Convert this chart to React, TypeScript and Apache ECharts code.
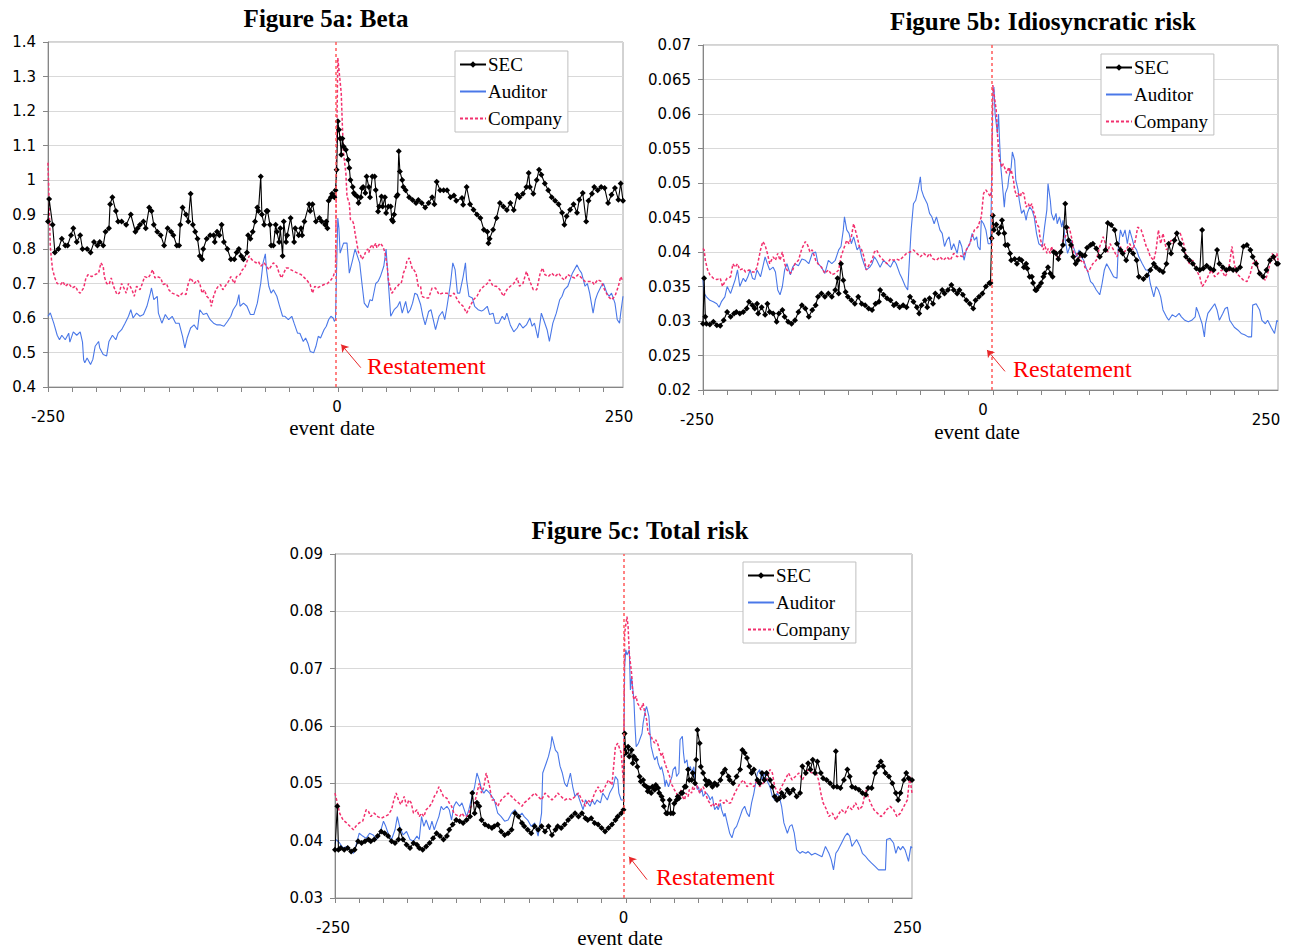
import React, { useEffect, useRef } from "react";
import * as echarts from "echarts";

// ---------- text ----------
const figureTitles = ["Figure 5a: Beta", "Figure 5b: Idiosyncratic risk", "Figure 5c: Total risk"];
const seriesNames = ["SEC", "Auditor", "Company"];
const xAxisName = "event date";
const annotationText = "Restatement";
const xLabelValues = [-250, 0, 250];
const eventLineDay = [0, 1, 0];

// ---------- Figure 5a: Beta ----------
const betaSec: [number, number][] = [
  [-250,.88],[-249,.945],[-246,.87],[-244,.79],[-241,.80],[-238,.83],[-235,.81],[-233,.81],[-230,.84],[-228,.86],[-225,.82],[-222,.84],[-220,.80],[-216,.80],[-213,.79],[-210,.82],[-207,.81],[-205,.82],[-202,.81],[-200,.85],[-197,.86],[-196,.93],[-194,.95],[-191,.91],[-189,.88],[-186,.88],[-182,.87],[-178,.90],[-174,.85],[-172,.86],[-170,.87],[-167,.88],[-165,.86],[-162,.92],[-160,.91],[-158,.87],[-155,.85],[-152,.84],[-149,.81],[-146,.86],[-143,.85],[-141,.84],[-138,.81],[-136,.81],[-135,.87],[-133,.92],[-130,.90],[-128,.88],[-126,.96],[-124,.87],[-122,.85],[-120,.83],[-118,.78],[-116,.77],[-115,.80],[-112,.83],[-109,.84],[-106,.84],[-105,.82],[-103,.85],[-101,.84],[-99,.87],[-97,.82],[-94,.80],[-91,.77],[-88,.77],[-86,.79],[-84,.80],[-82,.78],[-80,.77],[-77,.79],[-76,.84],[-74,.83],[-72,.85],[-70,.88],[-68,.92],[-67,.91],[-65,1.01],[-64,.90],[-62,.87],[-60,.91],[-59,.91],[-57,.87],[-56,.81],[-54,.81],[-52,.87],[-51,.85],[-49,.82],[-48,.86],[-46,.78],[-45,.88],[-43,.82],[-42,.84],[-39,.89],[-36,.82],[-35,.86],[-32,.84],[-30,.86],[-29,.84],[-27,.88],[-23,.93],[-22,.91],[-20,.93],[-17,.88],[-14,.89],[-12,.88],[-9,.87],[-8,.88],[-7,.86],[-6,.94],[-4,.95],[-3,.96],[-1,.95],[0,.97],
  [1,1.03],[2,1.17],[3,1.146],[4,1.12],[5,1.073],[6,1.12],[7,1.097],[9,1.088],[11,1.059],[12,1.035],[13,1.0],[15,.98],[16,.962],[17,.957],[19,.952],[20,.933],[22,.95],[23,.976],[24,.98],[26,.962],[27,1.01],[29,.98],[30,.95],[32,1.01],[34,1.01],[35,.971],[37,.909],[38,.923],[40,.952],[41,.923],[43,.95],[44,.904],[46,.923],[48,.923],[49,.885],[50,.88],[51,.9],[53,.952],[54,.957],[55,1.083],[56,1.025],[58,1.0],[59,.98],[61,.97],[64,.95],[67,.942],[70,.933],[72,.942],[75,.933],[78,.92],[81,.933],[84,.95],[86,.93],[88,.995],[91,.97],[94,.97],[97,.97],[100,.95],[103,.955],[105,.94],[110,.948],[111,.928],[114,.98],[117,.93],[120,.914],[123,.9],[126,.89],[129,.856],[132,.85],[133,.817],[134,.83],[137,.856],[140,.89],[143,.933],[146,.923],[149,.913],[152,.933],[155,.913],[158,.957],[160,.95],[163,.96],[166,.98],[168,1.02],[169,.98],[172,.96],[175,1.0],[177,1.03],[179,1.015],[182,.99],[185,.97],[188,.95],[191,.94],[194,.93],[197,.905],[199,.87],[201,.895],[204,.914],[207,.93],[210,.905],[212,.943],[215,.962],[218,.88],[220,.94],[223,.96],[225,.98],[228,.97],[231,.98],[234,.977],[237,.933],[240,.957],[243,.977],[246,.943],[248,.99],[250,.94]
];
const betaAud: [number, number][] = [
  [-250,.605],[-248,.615],[-245,.585],[-242,.55],[-240,.537],[-238,.55],[-235,.537],[-232,.556],[-231,.53],[-228,.56],[-225,.55],[-222,.56],[-220,.53],[-219,.479],[-218,.47],[-216,.484],[-213,.465],[-211,.48],[-209,.518],[-206,.532],[-205,.513],[-202,.494],[-199,.49],[-197,.532],[-194,.55],[-191,.537],[-189,.556],[-186,.566],[-183,.585],[-180,.605],[-178,.624],[-176,.6],[-173,.614],[-170,.605],[-167,.61],[-164,.634],[-161,.672],[-160,.687],[-158,.653],[-155,.663],[-154,.614],[-151,.585],[-148,.61],[-145,.595],[-142,.605],[-139,.585],[-136,.585],[-133,.547],[-131,.513],[-129,.542],[-126,.571],[-123,.58],[-120,.566],[-118,.624],[-115,.61],[-112,.614],[-109,.595],[-106,.585],[-103,.58],[-100,.58],[-97,.576],[-94,.59],[-91,.605],[-89,.624],[-86,.639],[-84,.668],[-83,.634],[-80,.643],[-77,.634],[-74,.61],[-71,.61],[-68,.643],[-65,.701],[-63,.76],[-61,.786],[-60,.74],[-58,.692],[-56,.672],[-54,.682],[-51,.663],[-49,.639],[-46,.605],[-44,.605],[-41,.595],[-38,.605],[-36,.585],[-33,.556],[-31,.556],[-28,.532],[-26,.542],[-24,.527],[-22,.503],[-19,.499],[-17,.518],[-15,.547],[-13,.542],[-10,.566],[-8,.576],[-6,.595],[-4,.605],[-2,.6],[-1,.59],[0,.596],
  [1,.75],[2,.89],[3,.86],[4,.788],[7,.817],[10,.817],[12,.73],[15,.77],[17,.8],[19,.78],[21,.76],[23,.70],[25,.643],[28,.63],[30,.653],[32,.65],[35,.70],[37,.706],[39,.72],[42,.75],[44,.8],[46,.70],[48,.605],[51,.624],[54,.634],[56,.648],[58,.614],[61,.648],[63,.614],[65,.624],[67,.643],[69,.672],[71,.668],[74,.639],[76,.605],[78,.58],[81,.619],[83,.624],[85,.595],[87,.566],[90,.605],[93,.619],[95,.595],[97,.634],[100,.70],[102,.76],[104,.74],[106,.672],[108,.672],[111,.72],[113,.76],[114,.711],[116,.663],[119,.658],[121,.634],[124,.624],[127,.62],[129,.624],[132,.634],[134,.61],[137,.614],[139,.585],[142,.585],[145,.605],[147,.595],[149,.614],[152,.58],[155,.56],[158,.571],[160,.585],[163,.571],[166,.58],[169,.6],[171,.576],[173,.585],[176,.542],[179,.614],[181,.595],[184,.566],[186,.532],[189,.585],[192,.614],[195,.653],[197,.663],[199,.682],[202,.692],[206,.73],[210,.754],[212,.74],[214,.73],[217,.692],[219,.70],[221,.672],[224,.614],[226,.653],[228,.672],[231,.692],[233,.70],[236,.672],[238,.663],[240,.672],[243,.643],[245,.595],[247,.585],[248,.614],[250,.663]
];
const betaCo: [number, number][] = [
  [-250,1.05],[-249,.933],[-248,.808],[-247,.77],[-246,.74],[-244,.716],[-242,.70],[-239,.697],[-237,.706],[-235,.692],[-232,.70],[-229,.687],[-226,.692],[-224,.677],[-222,.672],[-219,.687],[-217,.716],[-215,.726],[-212,.72],[-209,.726],[-206,.73],[-204,.76],[-202,.75],[-201,.72],[-199,.70],[-197,.697],[-195,.716],[-193,.692],[-190,.668],[-188,.672],[-186,.70],[-184,.687],[-182,.672],[-180,.70],[-177,.682],[-175,.663],[-173,.692],[-170,.682],[-168,.70],[-166,.72],[-163,.716],[-161,.726],[-159,.74],[-157,.716],[-155,.72],[-152,.716],[-150,.697],[-147,.70],[-145,.682],[-142,.672],[-139,.668],[-136,.663],[-133,.672],[-130,.668],[-128,.70],[-126,.716],[-123,.70],[-120,.71],[-118,.70],[-116,.672],[-114,.682],[-112,.663],[-109,.653],[-108,.634],[-106,.663],[-104,.682],[-102,.692],[-100,.697],[-98,.682],[-96,.692],[-93,.706],[-91,.72],[-88,.70],[-86,.72],[-83,.726],[-81,.74],[-79,.745],[-77,.764],[-75,.78],[-73,.77],[-71,.764],[-69,.76],[-67,.764],[-65,.75],[-62,.76],[-60,.75],[-58,.74],[-56,.75],[-54,.76],[-51,.75],[-49,.73],[-47,.716],[-45,.73],[-43,.745],[-41,.745],[-39,.74],[-36,.735],[-33,.73],[-30,.726],[-28,.72],[-25,.71],[-22,.697],[-20,.672],[-18,.692],[-16,.687],[-13,.692],[-10,.697],[-7,.70],[-4,.71],[-2,.72],[-1,.73],[0,.73],
  [1,1.10],[2,1.354],[3,1.32],[5,1.252],[6,1.155],[7,1.078],[9,1.02],[10,.952],[12,.933],[13,.885],[15,.88],[16,.871],[17,.846],[19,.808],[20,.79],[22,.78],[23,.77],[25,.78],[26,.79],[28,.80],[29,.79],[30,.803],[32,.813],[33,.803],[35,.817],[36,.803],[38,.813],[39,.817],[41,.808],[42,.80],[43,.79],[45,.75],[46,.711],[48,.683],[49,.672],[51,.68],[52,.687],[54,.692],[55,.697],[57,.70],[58,.711],[59,.73],[61,.745],[62,.764],[64,.774],[65,.764],[67,.74],[68,.74],[70,.73],[71,.711],[72,.692],[74,.692],[75,.663],[78,.658],[81,.658],[84,.687],[87,.687],[90,.668],[93,.672],[95,.672],[97,.672],[100,.663],[103,.672],[106,.653],[108,.643],[111,.634],[114,.614],[117,.634],[120,.653],[123,.663],[126,.682],[129,.692],[132,.70],[134,.711],[137,.692],[140,.692],[143,.682],[146,.663],[149,.682],[152,.692],[155,.70],[158,.716],[160,.692],[163,.70],[166,.735],[169,.706],[172,.682],[175,.682],[178,.73],[180,.745],[182,.726],[185,.72],[188,.73],[191,.72],[194,.73],[197,.716],[199,.71],[202,.726],[205,.72],[208,.716],[211,.726],[214,.716],[217,.706],[220,.706],[223,.706],[225,.697],[228,.711],[231,.706],[234,.682],[237,.663],[240,.653],[243,.663],[246,.692],[248,.72],[250,.706]
];

// ---------- Figure 5b: Idiosyncratic risk ----------
const idioSec: [number, number][] = [
  [-250,.0296],[-249,.0362],[-248,.0306],[-247,.0296],[-244,.0295],[-241,.0299],[-238,.0294],[-235,.0293],[-232,.0301],[-229,.0313],[-226,.0306],[-223,.0311],[-221,.0313],[-218,.0311],[-215,.0313],[-212,.0318],[-210,.0328],[-207,.0323],[-205,.0318],[-203,.0325],[-202,.0311],[-199,.032],[-196,.0309],[-194,.0325],[-192,.0313],[-189,.0311],[-186,.0299],[-184,.0311],[-181,.0316],[-179,.0306],[-176,.0299],[-173,.0296],[-170,.0301],[-167,.0313],[-164,.0323],[-161,.0318],[-158,.0306],[-155,.0316],[-152,.0323],[-150,.0335],[-147,.034],[-144,.0335],[-141,.034],[-138,.0335],[-135,.0345],[-133,.0362],[-132,.034],[-130,.0383],[-128,.0359],[-126,.0342],[-124,.0335],[-121,.033],[-118,.0325],[-115,.0335],[-112,.0325],[-109,.0323],[-106,.0318],[-103,.0316],[-100,.0325],[-97,.0328],[-96,.0345],[-93,.0338],[-90,.0333],[-87,.033],[-84,.0323],[-82,.0325],[-79,.032],[-76,.0323],[-73,.032],[-70,.0335],[-67,.0328],[-64,.032],[-62,.0311],[-60,.0323],[-57,.033],[-55,.032],[-53,.0333],[-50,.0325],[-48,.034],[-45,.0335],[-42,.0345],[-40,.034],[-37,.0345],[-34,.0352],[-32,.0345],[-29,.034],[-27,.0345],[-24,.0338],[-21,.033],[-18,.0325],[-15,.0318],[-13,.033],[-10,.0335],[-7,.034],[-4,.035],[-1,.0355],[0,.0355],
  [1,.042],[2,.0453],[3,.0432],[5,.044],[7,.0427],[9,.0436],[10,.0446],[12,.0427],[13,.041],[15,.041],[17,.0398],[18,.0388],[21,.039],[23,.0383],[25,.039],[27,.0388],[29,.0378],[31,.0383],[32,.0376],[34,.0364],[36,.0364],[37,.0355],[39,.0345],[40,.0345],[42,.035],[44,.0355],[46,.0364],[47,.0369],[50,.0378],[52,.0369],[54,.0364],[55,.04],[57,.0398],[59,.039],[61,.04],[63,.041],[65,.047],[66,.0436],[68,.0417],[70,.041],[72,.0393],[74,.0383],[76,.0388],[78,.0398],[80,.0395],[82,.0395],[84,.0406],[87,.041],[89,.0412],[92,.0405],[95,.0393],[100,.0403],[102,.0442],[105,.0439],[108,.0432],[110,.0412],[113,.0403],[115,.0398],[118,.0388],[121,.0403],[124,.0398],[127,.0388],[129,.0364],[133,.0361],[136,.0366],[139,.0374],[142,.0383],[144,.0378],[147,.0374],[150,.0371],[153,.0383],[155,.0412],[157,.0398],[160,.0417],[162,.0427],[165,.0412],[168,.0403],[170,.0393],[173,.0388],[176,.0383],[179,.0376],[182,.0374],[184,.0432],[185,.0376],[188,.038],[191,.0376],[194,.0374],[197,.0403],[199,.0383],[202,.0378],[205,.0374],[208,.0376],[211,.0374],[214,.0374],[217,.0378],[220,.0408],[223,.041],[226,.0403],[228,.0393],[231,.0383],[234,.0369],[237,.0364],[240,.0374],[243,.0388],[246,.0393],[249,.0383],[250,.0383]
];
const idioAud: [number, number][] = [
  [-250,.036],[-249,.034],[-247,.0335],[-244,.033],[-241,.0328],[-238,.0325],[-236,.032],[-234,.0328],[-231,.0335],[-229,.035],[-226,.034],[-224,.035],[-222,.036],[-220,.0374],[-218,.035],[-215,.0362],[-213,.0357],[-211,.0364],[-209,.0374],[-207,.0362],[-205,.036],[-203,.0374],[-200,.0364],[-198,.0378],[-196,.0393],[-194,.0383],[-192,.0374],[-189,.0378],[-187,.0371],[-185,.0345],[-183,.0338],[-181,.035],[-179,.0374],[-177,.0383],[-174,.0367],[-172,.0378],[-170,.0383],[-167,.038],[-164,.039],[-161,.0388],[-158,.0383],[-155,.0398],[-152,.04],[-150,.0383],[-147,.0378],[-144,.0369],[-141,.0388],[-138,.0383],[-135,.0388],[-132,.0403],[-130,.0408],[-128,.0432],[-127,.0451],[-125,.0432],[-123,.0427],[-121,.0412],[-119,.0422],[-116,.0403],[-114,.0408],[-112,.0393],[-110,.0383],[-108,.0374],[-105,.0378],[-103,.0383],[-101,.0393],[-99,.0388],[-96,.0378],[-93,.0388],[-90,.0383],[-87,.0378],[-84,.0388],[-82,.0383],[-79,.0369],[-77,.0362],[-74,.035],[-72,.0345],[-71,.0374],[-69,.0432],[-67,.047],[-65,.0475],[-63,.049],[-61,.0509],[-60,.049],[-58,.048],[-55,.047],[-53,.0456],[-51,.0451],[-49,.0441],[-47,.0451],[-44,.0432],[-42,.0427],[-40,.0408],[-38,.0417],[-36,.0422],[-34,.0403],[-32,.0412],[-29,.0398],[-27,.0417],[-25,.0408],[-23,.0388],[-21,.0403],[-18,.0412],[-16,.0427],[-14,.0417],[-12,.0422],[-11,.0408],[-9,.0403],[-8,.0446],[-6,.0441],[-4,.0432],[-2,.0412],[0,.0412],
  [1,.05],[2,.063],[3,.0639],[4,.06],[6,.0572],[7,.06],[8,.0557],[9,.0523],[11,.0485],[12,.0465],[13,.0485],[15,.0494],[16,.0509],[18,.0523],[19,.0545],[21,.0533],[22,.0504],[24,.049],[25,.0475],[27,.0456],[29,.0461],[31,.0446],[32,.0456],[34,.0465],[36,.0461],[38,.0451],[40,.0427],[42,.0412],[45,.0408],[47,.0436],[49,.0461],[50,.0499],[52,.0475],[53,.0456],[55,.0446],[57,.0456],[58,.0441],[60,.0451],[62,.0436],[63,.0446],[65,.0417],[67,.0398],[69,.0408],[70,.0417],[73,.0403],[75,.0393],[77,.0403],[79,.0393],[81,.0388],[83,.0378],[85,.0369],[87,.0357],[89,.0354],[92,.0345],[95,.0338],[97,.0354],[99,.0374],[101,.0383],[104,.0374],[107,.0364],[110,.0362],[111,.0403],[113,.0432],[115,.0422],[117,.0432],[119,.0412],[121,.0432],[123,.042],[125,.0408],[127,.0403],[129,.0393],[132,.0383],[135,.0374],[137,.0374],[139,.0354],[142,.0335],[144,.035],[146,.0345],[148,.0335],[150,.0316],[153,.0306],[155,.0301],[158,.0309],[161,.0306],[164,.0311],[166,.0306],[169,.0301],[172,.0299],[175,.0301],[178,.0306],[179,.032],[181,.0311],[184,.0296],[186,.0277],[187,.0296],[189,.0311],[192,.0318],[195,.0325],[197,.0316],[199,.0301],[202,.0311],[204,.0318],[206,.032],[208,.0301],[210,.0296],[212,.0291],[215,.0287],[218,.0282],[221,.028],[224,.0277],[227,.0277],[228,.0323],[231,.0325],[234,.0316],[236,.0301],[239,.0296],[241,.0301],[244,.0291],[247,.0282],[249,.0301],[250,.0299]
];
const idioCo: [number, number][] = [
  [-250,.0405],[-249,.0403],[-248,.0388],[-246,.0374],[-244,.0367],[-241,.0362],[-238,.036],[-235,.0362],[-233,.035],[-231,.0357],[-229,.0362],[-226,.0364],[-224,.0383],[-222,.0378],[-220,.0383],[-218,.0374],[-215,.0376],[-213,.0371],[-210,.0374],[-207,.0371],[-205,.0371],[-203,.0378],[-200,.0403],[-198,.0415],[-196,.041],[-194,.0398],[-192,.0383],[-189,.0393],[-187,.0388],[-185,.0398],[-183,.0388],[-181,.04],[-179,.0383],[-177,.0374],[-174,.0369],[-172,.0374],[-170,.0383],[-167,.0388],[-164,.0405],[-161,.0415],[-159,.041],[-157,.04],[-155,.0403],[-152,.0388],[-150,.0383],[-147,.0378],[-144,.0369],[-141,.0374],[-138,.0367],[-135,.0369],[-132,.0374],[-130,.0393],[-128,.0403],[-125,.0417],[-123,.0412],[-121,.0422],[-119,.0441],[-116,.0422],[-114,.0408],[-112,.0403],[-110,.0393],[-108,.0374],[-105,.0383],[-103,.0388],[-101,.04],[-99,.0403],[-96,.0393],[-93,.0388],[-90,.0383],[-87,.039],[-84,.0388],[-82,.039],[-79,.0388],[-76,.0393],[-73,.0398],[-70,.04],[-67,.0403],[-64,.0398],[-61,.0393],[-58,.0398],[-55,.0393],[-53,.0398],[-50,.039],[-47,.0388],[-44,.0393],[-41,.0388],[-38,.0393],[-35,.0388],[-32,.0398],[-29,.0393],[-27,.0395],[-24,.0393],[-21,.0403],[-18,.0412],[-16,.0422],[-14,.0432],[-11,.0436],[-8,.0451],[-6,.0485],[-4,.049],[-2,.0485],[0,.048],
  [1,.0494],[2,.0642],[3,.063],[5,.0605],[6,.0572],[7,.0548],[8,.0533],[10,.0523],[11,.0528],[13,.0519],[14,.0514],[16,.0523],[17,.0514],[18,.0519],[20,.0504],[21,.049],[23,.048],[24,.0485],[26,.048],[27,.0487],[29,.0485],[30,.0475],[31,.0465],[33,.047],[34,.0465],[36,.047],[37,.0461],[39,.0451],[40,.0441],[42,.0436],[43,.0422],[45,.0408],[46,.0403],[47,.0412],[49,.0398],[50,.0405],[52,.0398],[53,.0408],[55,.0398],[56,.0403],[58,.0393],[59,.0388],[60,.0393],[62,.0408],[63,.0417],[65,.0422],[66,.0427],[68,.0436],[69,.0432],[71,.0417],[72,.0403],[73,.0393],[75,.0398],[76,.0388],[78,.0393],[79,.0386],[81,.0388],[82,.0378],[84,.0374],[85,.0371],[86,.0374],[89,.0383],[92,.0388],[95,.0408],[98,.0422],[100,.0412],[102,.04],[104,.0412],[107,.0403],[110,.0393],[113,.0408],[115,.0398],[118,.0403],[121,.0412],[124,.0403],[126,.0417],[128,.0436],[131,.0432],[133,.0422],[135,.041],[137,.0403],[139,.0393],[142,.0388],[144,.0403],[146,.0432],[148,.0412],[150,.0427],[153,.0403],[155,.0408],[157,.0417],[159,.0412],[162,.0427],[165,.0427],[168,.0412],[170,.0393],[173,.0383],[176,.0388],[179,.0374],[182,.0364],[184,.035],[186,.0354],[189,.0364],[192,.0374],[195,.0364],[198,.0369],[201,.0374],[204,.0364],[207,.0374],[210,.0408],[212,.0383],[214,.0369],[217,.0364],[220,.0359],[223,.0357],[226,.0369],[228,.0383],[231,.0388],[233,.0374],[236,.0364],[239,.0359],[241,.0369],[243,.0383],[245,.0398],[247,.0388],[249,.0398],[250,.0388]
];

// ---------- Figure 5c: Total risk ----------
const totSec: [number, number][] = [
  [-250,.0384],[-248,.046],[-247,.0384],[-245,.0387],[-242,.0384],[-239,.0387],[-236,.0381],[-233,.0384],[-230,.0399],[-227,.0396],[-224,.0399],[-221,.0402],[-219,.0399],[-216,.0402],[-213,.0408],[-210,.0416],[-207,.0413],[-204,.0408],[-201,.0399],[-198,.0396],[-195,.0402],[-194,.0419],[-191,.0402],[-188,.0393],[-185,.0387],[-182,.0396],[-179,.0393],[-177,.0387],[-174,.0384],[-171,.039],[-168,.0396],[-165,.0404],[-162,.0413],[-159,.0408],[-156,.0402],[-153,.0408],[-151,.0419],[-148,.0428],[-145,.0436],[-142,.0434],[-139,.0431],[-136,.0436],[-133,.0442],[-131,.0483],[-129,.0448],[-127,.0466],[-125,.046],[-123,.0436],[-120,.0428],[-117,.0425],[-114,.0422],[-112,.0425],[-109,.0428],[-106,.0416],[-103,.041],[-100,.0413],[-97,.0419],[-94,.0448],[-91,.0442],[-88,.0431],[-86,.0425],[-83,.0419],[-80,.0413],[-77,.0425],[-74,.0419],[-71,.0425],[-68,.0416],[-65,.0425],[-62,.041],[-59,.0419],[-57,.0425],[-54,.0422],[-51,.0428],[-48,.0436],[-45,.0442],[-42,.0448],[-39,.0442],[-36,.0448],[-33,.0439],[-31,.0436],[-28,.0439],[-25,.0431],[-22,.0428],[-19,.0422],[-16,.0416],[-13,.0422],[-10,.0428],[-7,.0436],[-5,.0442],[-2,.0448],[0,.0454],
  [1,.0587],[2,.0553],[4,.0564],[5,.0547],[7,.0558],[8,.0535],[9,.0547],[11,.0541],[12,.0529],[14,.0512],[15,.0503],[17,.0506],[18,.0497],[20,.0494],[21,.0486],[22,.0492],[24,.0483],[25,.0494],[27,.0489],[28,.0497],[30,.0492],[31,.0483],[33,.0477],[34,.0471],[35,.046],[37,.0448],[38,.0448],[40,.0471],[41,.0448],[43,.0448],[44,.0465],[46,.0471],[47,.0477],[48,.0474],[50,.0483],[51,.0483],[53,.0494],[54,.0494],[56,.0524],[57,.0506],[59,.0506],[60,.0518],[62,.05],[63,.0541],[64,.0593],[66,.057],[67,.0529],[69,.0518],[71,.0506],[72,.0497],[74,.0503],[75,.05],[77,.0494],[79,.05],[81,.0497],[84,.0506],[86,.0518],[88,.0524],[91,.0512],[92,.0506],[95,.05],[98,.0512],[101,.0524],[103,.0558],[105,.0553],[107,.0544],[109,.053],[111,.0518],[113,.0524],[116,.0506],[118,.05],[120,.0518],[122,.0506],[124,.0518],[127,.0506],[129,.0494],[131,.0477],[133,.0471],[135,.0474],[137,.0483],[139,.0477],[142,.0489],[144,.0483],[147,.0489],[150,.0477],[153,.0483],[155,.053],[158,.0518],[160,.0535],[162,.0524],[164,.0541],[166,.0518],[168,.0538],[171,.0518],[173,.0509],[176,.0506],[179,.05],[182,.0494],[184,.0556],[185,.0494],[188,.0492],[191,.0506],[194,.0524],[196,.0512],[198,.0494],[201,.0492],[204,.0489],[207,.0483],[210,.048],[212,.0492],[215,.0492],[218,.0518],[221,.053],[223,.0538],[225,.053],[227,.0518],[230,.0512],[233,.05],[236,.0483],[238,.0471],[240,.0483],[243,.0506],[245,.0518],[247,.0509],[250,.0506]
];
const totAud: [number, number][] = [
  [-250,.0395],[-249,.0402],[-246,.0396],[-243,.0387],[-240,.039],[-237,.0384],[-234,.0378],[-232,.039],[-229,.0413],[-226,.0408],[-223,.0404],[-220,.0413],[-217,.041],[-214,.0402],[-211,.0413],[-208,.0434],[-206,.0425],[-204,.0413],[-201,.0402],[-198,.0419],[-196,.0442],[-194,.0425],[-191,.041],[-188,.0416],[-185,.0402],[-182,.0399],[-179,.0408],[-177,.0402],[-175,.0442],[-173,.0425],[-171,.0436],[-168,.0419],[-166,.0434],[-164,.0419],[-162,.0431],[-160,.0442],[-158,.046],[-156,.0454],[-153,.046],[-151,.0454],[-149,.0436],[-147,.046],[-145,.0468],[-142,.046],[-140,.0466],[-138,.0454],[-136,.0442],[-134,.0454],[-132,.0471],[-129,.0494],[-127,.0518],[-125,.0506],[-123,.0489],[-121,.0483],[-119,.0489],[-116,.0483],[-114,.0477],[-112,.0471],[-109,.0448],[-106,.0442],[-103,.0434],[-100,.0436],[-97,.0448],[-94,.0454],[-91,.0442],[-88,.0448],[-86,.0442],[-83,.0436],[-80,.0425],[-77,.0431],[-74,.0408],[-71,.0448],[-70,.0518],[-67,.0535],[-65,.0547],[-63,.0564],[-62,.0582],[-59,.0558],[-57,.0553],[-55,.053],[-53,.0518],[-51,.05],[-49,.0494],[-46,.0518],[-44,.0494],[-42,.0477],[-40,.0483],[-38,.0471],[-35,.0454],[-33,.0471],[-31,.0466],[-29,.046],[-27,.0471],[-25,.0463],[-23,.0471],[-20,.0466],[-18,.0483],[-16,.0477],[-14,.0471],[-12,.0483],[-9,.0494],[-7,.0512],[-5,.0506],[-4,.0483],[-2,.0471],[0,.0471],
  [1,.0704],[2,.0733],[3,.0724],[5,.0733],[6,.0663],[7,.0686],[9,.0646],[10,.0599],[11,.0564],[13,.057],[14,.0576],[16,.0587],[17,.0605],[19,.0628],[20,.0634],[22,.0617],[23,.0587],[24,.0564],[26,.0547],[27,.0541],[29,.0547],[30,.0535],[32,.0524],[33,.0529],[35,.0512],[36,.0494],[37,.0506],[39,.0494],[40,.05],[42,.0512],[43,.0524],[45,.0529],[46,.0512],[48,.0518],[49,.0576],[51,.0582],[52,.0553],[53,.0535],[55,.0541],[56,.0524],[58,.0529],[59,.0518],[61,.0529],[62,.0506],[64,.0489],[65,.0494],[66,.0483],[68,.0489],[69,.0477],[71,.0483],[72,.0483],[74,.0477],[75,.0471],[77,.0477],[78,.0465],[79,.0454],[81,.046],[82,.0454],[84,.0465],[85,.0454],[87,.0442],[88,.0448],[90,.043],[92,.0413],[94,.0405],[96,.042],[98,.0425],[101,.0442],[103,.0454],[105,.046],[107,.0448],[109,.0442],[111,.0466],[113,.0483],[116,.0518],[118,.0524],[120,.0506],[122,.0518],[124,.0506],[127,.0494],[129,.0477],[131,.0471],[133,.0483],[135,.0477],[137,.046],[139,.0431],[142,.0413],[144,.0425],[146,.0428],[148,.0413],[150,.0384],[153,.0378],[155,.0381],[158,.0378],[160,.0381],[163,.0375],[166,.0378],[169,.0375],[172,.0372],[175,.039],[178,.0378],[180,.0367],[182,.0349],[184,.0378],[186,.0384],[189,.0396],[192,.0408],[194,.0413],[196,.0408],[198,.039],[200,.0396],[202,.0402],[205,.039],[207,.0378],[210,.0372],[212,.0367],[215,.0361],[218,.0355],[221,.0349],[224,.0349],[227,.0349],[228,.0402],[231,.0404],[234,.0396],[236,.0378],[238,.039],[240,.0384],[242,.039],[244,.0384],[247,.0364],[249,.039],[250,.0387]
];
const totCo: [number, number][] = [
  [-250,.0483],[-248,.0466],[-246,.0448],[-243,.0436],[-240,.0431],[-237,.0425],[-234,.0419],[-232,.0425],[-229,.0431],[-226,.0434],[-223,.0454],[-221,.0451],[-219,.0442],[-216,.0448],[-213,.0442],[-210,.0439],[-207,.0442],[-204,.0445],[-201,.0454],[-199,.0471],[-197,.0483],[-195,.0471],[-193,.0463],[-190,.0477],[-188,.046],[-186,.0471],[-184,.0466],[-182,.0448],[-179,.0454],[-177,.0442],[-175,.0448],[-173,.0442],[-171,.0454],[-168,.046],[-166,.0466],[-164,.0477],[-162,.0483],[-160,.0494],[-158,.0486],[-156,.0477],[-153,.0474],[-151,.0466],[-149,.046],[-147,.0448],[-145,.0445],[-142,.0442],[-140,.0448],[-138,.0442],[-136,.0442],[-134,.0448],[-132,.046],[-129,.0466],[-127,.0483],[-125,.05],[-123,.0483],[-121,.0494],[-119,.0518],[-116,.0494],[-114,.0471],[-112,.0471],[-109,.046],[-106,.0471],[-103,.0477],[-100,.0483],[-97,.0477],[-94,.0471],[-91,.0466],[-88,.046],[-86,.0466],[-83,.0471],[-80,.0477],[-77,.0483],[-74,.0477],[-71,.0471],[-68,.0483],[-65,.0477],[-62,.0471],[-59,.0477],[-57,.0483],[-54,.0477],[-51,.0471],[-48,.0474],[-45,.0471],[-42,.0477],[-39,.0483],[-36,.0471],[-33,.046],[-31,.0471],[-28,.0466],[-25,.0483],[-22,.0494],[-19,.0483],[-16,.0494],[-13,.0506],[-10,.0497],[-7,.0564],[-5,.057],[-2,.0553],[0,.05],
  [1,.0762],[3,.0791],[4,.0773],[5,.0727],[7,.0692],[8,.0657],[9,.0646],[11,.0652],[12,.064],[14,.0634],[15,.0628],[17,.064],[18,.0628],[20,.0611],[21,.0593],[22,.0587],[24,.0582],[25,.0576],[27,.057],[28,.0576],[30,.0567],[31,.0558],[33,.0547],[34,.0553],[35,.0541],[37,.0529],[38,.0524],[40,.0512],[41,.05],[43,.0494],[44,.0489],[46,.0483],[47,.0471],[48,.0477],[50,.0489],[51,.0477],[53,.0471],[54,.0483],[56,.0477],[57,.0489],[59,.0483],[60,.0494],[61,.0489],[63,.05],[64,.0494],[66,.0483],[67,.0489],[69,.0494],[70,.0489],[72,.0477],[73,.0471],[75,.0465],[76,.046],[77,.0465],[79,.046],[80,.0465],[82,.046],[84,.0471],[87,.0465],[89,.0471],[91,.0465],[93,.0466],[95,.0477],[98,.0489],[101,.05],[104,.0506],[107,.0494],[110,.05],[113,.0494],[116,.0506],[118,.0494],[121,.05],[124,.0506],[127,.0524],[129,.0518],[131,.0494],[134,.0483],[137,.0494],[140,.0506],[143,.0518],[146,.0506],[149,.0512],[152,.0518],[155,.0506],[158,.0518],[160,.0524],[163,.0518],[166,.0524],[169,.0506],[171,.0483],[173,.0466],[176,.0454],[178,.0442],[181,.0448],[184,.0436],[186,.0445],[189,.0454],[192,.0448],[195,.046],[198,.0454],[201,.0466],[204,.0454],[207,.046],[210,.0489],[212,.0477],[214,.0466],[217,.0454],[220,.0448],[223,.0442],[225,.0445],[228,.0454],[231,.046],[234,.0454],[237,.0442],[240,.0448],[243,.046],[246,.0471],[248,.0512],[250,.0483]
];

// ---------- layout (positions & styles, not data) ----------
const SERIF = '"Liberation Serif", "Times New Roman", serif';
const SANS = '"DejaVu Sans", sans-serif';
const COLORS = { sec: "#000000", aud: "#4a78e8", co: "#f2306e", event: "#ff5a5a", arrow: "#e8282a", text: "#ff0000" };

const panels = [
  {
    sec: betaSec, aud: betaAud, co: betaCo,
    grid: { left: 48, top: 42, width: 575, height: 345 },
    y: { min: 0.4, max: 1.4, interval: 0.1 },
    title: { x: 326, y: 18 },
    legend: { left: 455, top: 51 },
    restate: { x: 367, y: 366 },
    arrow: [[22, 0.456], [5, 0.523]],
    labelPad: { a: [10, 0, 0, 0], z: [0, 0, 0, 3], b: [10, 8, 0, 0] },
    namePad: [0, 7, 0, 0],
    nameGap: 30,
  },
  {
    sec: idioSec, aud: idioAud, co: idioCo,
    grid: { left: 703, top: 45, width: 575, height: 345 },
    y: { min: 0.02, max: 0.07, interval: 0.005 },
    title: { x: 1043, y: 21 },
    legend: { left: 1101, top: 54 },
    restate: { x: 1013, y: 369 },
    arrow: [[12.6, 0.0227], [-3, 0.0258]],
    labelPad: { a: [10, 12, 0, 0], z: [0, 15, 0, 0], b: [10, 24, 0, 0] },
    namePad: [0, 27, 0, 0],
    nameGap: 31,
  },
  {
    sec: totSec, aud: totAud, co: totCo,
    grid: { left: 335, top: 554, width: 577, height: 344 },
    y: { min: 0.03, max: 0.09, interval: 0.01 },
    title: { x: 640, y: 530 },
    legend: { left: 743, top: 562 },
    restate: { x: 656, y: 877 },
    arrow: [[20.4, 0.0332], [4.8, 0.0372]],
    labelPad: { a: [10, 4, 0, 0], z: [0, 0, 0, 0], b: [10, 9, 0, 0] },
    namePad: [0, 7, 0, 0],
    nameGap: 29,
  },
];

function buildOption() {
  const ticks: number[] = [];
  for (let d = -250; d <= 250; d += 21) ticks.push(d);

  const grid: any[] = [];
  const xAxis: any[] = [];
  const yAxis: any[] = [];
  const legend: any[] = [];
  const series: any[] = [];
  const graphic: any[] = [];

  const legendData = seriesNames.map((n, k) =>
    k === 0 ? { name: n } : { name: n, itemStyle: { opacity: 0 } }
  );

  panels.forEach((p, i) => {
    grid.push({
      ...p.grid,
      show: true,
      borderColor: "#a6a6a6",
      borderWidth: 1,
      backgroundColor: "#ffffff",
      containLabel: false,
    });
    const labelRich = (pad: number[]) => ({ fontFamily: SANS, fontSize: 15, color: "#000", padding: pad });
    xAxis.push({
      type: "value",
      gridIndex: i,
      min: -250,
      max: 250,
      name: xAxisName,
      nameLocation: "middle",
      nameGap: p.nameGap,
      nameMoveOverlap: false,
      nameTextStyle: { fontFamily: SERIF, fontSize: 21, color: "#000", padding: p.namePad },
      axisLine: { show: true, onZero: false, lineStyle: { color: "#868686", width: 1 } },
      axisTick: { show: true, customValues: ticks, length: 5, inside: false, lineStyle: { color: "#868686" } },
      splitLine: { show: false },
      axisLabel: {
        customValues: xLabelValues,
        margin: 12,
        showMinLabel: true,
        showMaxLabel: true,
        formatter: (v: number) => (v < 0 ? `{a|${v}}` : v === 0 ? `{z|${v}}` : `{b|${v}}`),
        rich: { a: labelRich(p.labelPad.a), z: labelRich(p.labelPad.z), b: labelRich(p.labelPad.b) },
      },
    });
    yAxis.push({
      type: "value",
      gridIndex: i,
      min: p.y.min,
      max: p.y.max,
      interval: p.y.interval,
      axisLine: { show: true, onZero: false, lineStyle: { color: "#868686", width: 1 } },
      axisTick: { show: true, length: 5, lineStyle: { color: "#868686" } },
      splitLine: { show: true, lineStyle: { color: "#d9d9d9", width: 1 } },
      axisLabel: { fontFamily: SANS, fontSize: 15, color: "#000", margin: 12 },
    });
    legend.push({
      orient: "vertical",
      left: p.legend.left,
      top: p.legend.top,
      data: legendData,
      itemWidth: 26,
      itemHeight: 8,
      itemGap: 8,
      padding: [4, 6, 4, 4],
      borderColor: "#bfbfbf",
      borderWidth: 1,
      backgroundColor: "#ffffff",
      selectedMode: false,
      textStyle: { fontFamily: SERIF, fontSize: 19, color: "#000", padding: [0, 0, 0, -3] },
    });
    series.push({
      name: seriesNames[0],
      type: "line",
      xAxisIndex: i,
      yAxisIndex: i,
      data: p.sec,
      symbol: "diamond",
      symbolSize: 6,
      showSymbol: true,
      itemStyle: { color: COLORS.sec },
      lineStyle: { color: COLORS.sec, width: 1.1 },
      z: 4,
    });
    series.push({
      name: seriesNames[1],
      type: "line",
      xAxisIndex: i,
      yAxisIndex: i,
      data: p.aud,
      symbol: "none",
      itemStyle: { color: COLORS.aud },
      lineStyle: { color: COLORS.aud, width: 1.1 },
      z: 3,
    });
    series.push({
      name: seriesNames[2],
      type: "line",
      xAxisIndex: i,
      yAxisIndex: i,
      data: p.co,
      symbol: "none",
      itemStyle: { color: COLORS.co },
      lineStyle: { color: COLORS.co, width: 1.5, type: [3, 2] },
      z: 3,
      markLine: {
        silent: true,
        symbol: ["none", "none"],
        animation: false,
        label: { show: false },
        data: [
          { xAxis: eventLineDay[i], lineStyle: { color: COLORS.event, type: [3, 3], width: 1.5 } },
          [
            { coord: p.arrow[0], symbol: "none", lineStyle: { color: COLORS.arrow, width: 1, type: "solid" } },
            { coord: p.arrow[1], symbol: "arrow", symbolSize: 7, lineStyle: { color: COLORS.arrow, width: 1, type: "solid" } },
          ],
        ],
      },
    });
    graphic.push({
      type: "text",
      x: p.title.x,
      y: p.title.y,
      style: {
        text: figureTitles[i],
        font: `bold 25px ${SERIF}`,
        fill: "#000",
        align: "center",
        verticalAlign: "middle",
        textAlign: "center",
        textVerticalAlign: "middle",
      },
    });
    graphic.push({
      type: "text",
      x: p.restate.x,
      y: p.restate.y,
      z: 100,
      style: {
        text: annotationText,
        font: `24px ${SERIF}`,
        fill: COLORS.text,
        align: "left",
        verticalAlign: "middle",
        textAlign: "left",
        textVerticalAlign: "middle",
      },
    });
  });

  return {
    animation: false,
    backgroundColor: "#ffffff",
    textStyle: { fontFamily: SANS },
    grid,
    xAxis,
    yAxis,
    legend,
    series,
    graphic,
  };
}

export default function App() {
  const ref = useRef<HTMLDivElement>(null);
  useEffect(() => {
    if (!ref.current) return;
    const chart = echarts.init(ref.current, null, { renderer: "svg" });
    chart.setOption(buildOption() as any);
    return () => chart.dispose();
  }, []);
  return (
    <div
      ref={ref}
      style={{ position: "fixed", left: 0, top: 0, width: 1298, height: 950, background: "#ffffff" }}
    />
  );
}
